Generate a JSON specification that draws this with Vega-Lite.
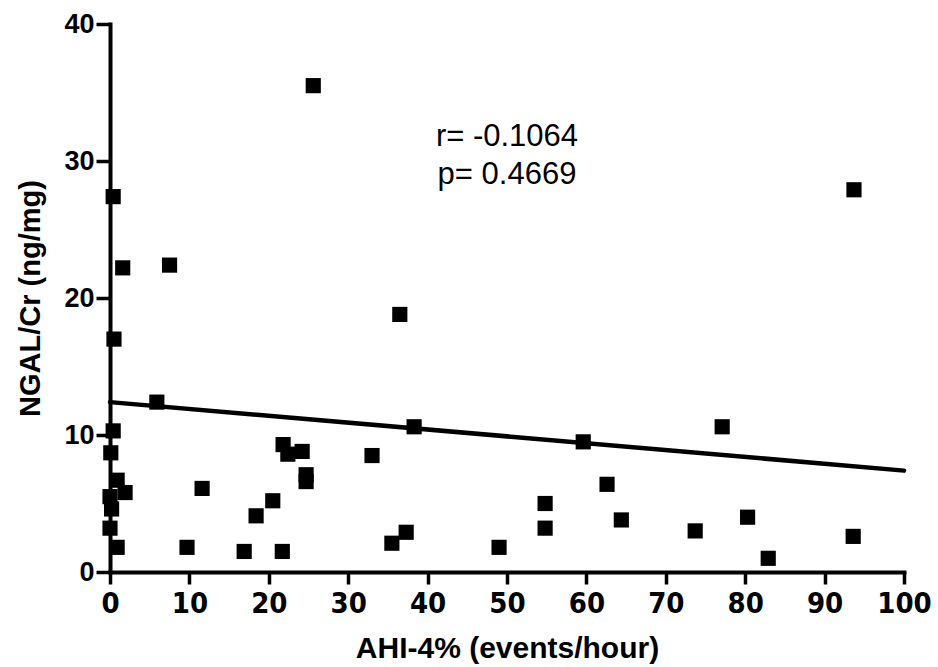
{
  "$schema": "https://vega.github.io/schema/vega-lite/v6.json",
  "width": 794,
  "height": 548,
  "autosize": "none",
  "padding": {"left": 110, "top": 24, "right": 34, "bottom": 95},
  "background": "white",
  "config": {
    "view": {"stroke": null},
    "axis": {"grid": false, "domainColor": "black", "tickColor": "black", "labelColor": "black", "titleColor": "black", "domainWidth": 4, "tickWidth": 3.5, "domainCap": "square"}
  },
  "datasets": {
    "pts": [
      {"ahi": 25.6, "ngal": 35.5}, {"ahi": 0.4, "ngal": 27.4}, {"ahi": 1.6, "ngal": 22.2},
      {"ahi": 7.5, "ngal": 22.4}, {"ahi": 93.7, "ngal": 27.9}, {"ahi": 36.5, "ngal": 18.8},
      {"ahi": 0.5, "ngal": 17.0}, {"ahi": 5.9, "ngal": 12.4}, {"ahi": 0.4, "ngal": 10.3},
      {"ahi": 38.3, "ngal": 10.6}, {"ahi": 59.6, "ngal": 9.5}, {"ahi": 77.1, "ngal": 10.6},
      {"ahi": 21.8, "ngal": 9.3}, {"ahi": 22.4, "ngal": 8.6}, {"ahi": 24.2, "ngal": 8.8},
      {"ahi": 33.0, "ngal": 8.5}, {"ahi": 24.7, "ngal": 7.1}, {"ahi": 24.7, "ngal": 6.6},
      {"ahi": 0.1, "ngal": 8.7}, {"ahi": 0.9, "ngal": 6.7}, {"ahi": 1.9, "ngal": 5.8},
      {"ahi": 0.0, "ngal": 5.5}, {"ahi": 0.2, "ngal": 4.6}, {"ahi": 0.0, "ngal": 3.2},
      {"ahi": 0.9, "ngal": 1.8}, {"ahi": 11.6, "ngal": 6.1}, {"ahi": 20.5, "ngal": 5.2},
      {"ahi": 18.4, "ngal": 4.1}, {"ahi": 16.9, "ngal": 1.5}, {"ahi": 21.7, "ngal": 1.5},
      {"ahi": 9.7, "ngal": 1.8}, {"ahi": 35.5, "ngal": 2.1}, {"ahi": 37.3, "ngal": 2.9},
      {"ahi": 49.0, "ngal": 1.8}, {"ahi": 54.8, "ngal": 5.0}, {"ahi": 54.8, "ngal": 3.2},
      {"ahi": 62.6, "ngal": 6.4}, {"ahi": 64.4, "ngal": 3.8}, {"ahi": 73.7, "ngal": 3.0},
      {"ahi": 80.3, "ngal": 4.0}, {"ahi": 82.9, "ngal": 1.0}, {"ahi": 93.6, "ngal": 2.6}
    ],
    "fit": [{"ahi": 0, "ngal": 12.4}, {"ahi": 100, "ngal": 7.4}],
    "notes": [
      {"ahi": 50, "ngal": 31.1, "label": "r= -0.1064"},
      {"ahi": 50, "ngal": 28.3, "label": "p= 0.4669"}
    ]
  },
  "layer": [
    {
      "data": {"name": "fit"},
      "mark": {"type": "line", "color": "black", "strokeWidth": 4.5, "strokeCap": "round"},
      "encoding": {
        "x": {"field": "ahi", "type": "quantitative",
          "scale": {"domain": [0, 100], "nice": false, "zero": false},
          "axis": {"values": [0,10,20,30,40,50,60,70,80,90,100], "title": "AHI-4% (events/hour)",
            "labelFont": "Liberation Sans Narrow, DejaVu Sans Condensed, Liberation Sans", "labelFontWeight": "bold", "labelFontSize": 29,
            "labelPadding": 5, "tickSize": 12, "labelFlush": false,
            "titleFont": "Liberation Sans", "titleFontWeight": "bold", "titleFontSize": 30, "titlePadding": 15}},
        "y": {"field": "ngal", "type": "quantitative",
          "scale": {"domain": [0, 40], "nice": false},
          "axis": {"values": [0,10,20,30,40], "title": "NGAL/Cr (ng/mg)",
            "labelFont": "Liberation Sans", "labelFontWeight": "bold", "labelFontSize": 27,
            "labelPadding": 2, "tickSize": 14, "labelFlush": false,
            "titleFont": "Liberation Sans", "titleFontWeight": "bold", "titleFontSize": 29, "titlePadding": 18}}
      }
    },
    {
      "data": {"name": "pts"},
      "mark": {"type": "square", "color": "black", "filled": true, "opacity": 1, "size": 230},
      "encoding": {
        "x": {"field": "ahi", "type": "quantitative"},
        "y": {"field": "ngal", "type": "quantitative"}
      }
    },
    {
      "data": {"name": "notes"},
      "mark": {"type": "text", "font": "Liberation Sans", "fontSize": 31, "align": "center", "baseline": "alphabetic", "color": "black"},
      "encoding": {
        "x": {"field": "ahi", "type": "quantitative"},
        "y": {"field": "ngal", "type": "quantitative"},
        "text": {"field": "label"}
      }
    }
  ]
}
